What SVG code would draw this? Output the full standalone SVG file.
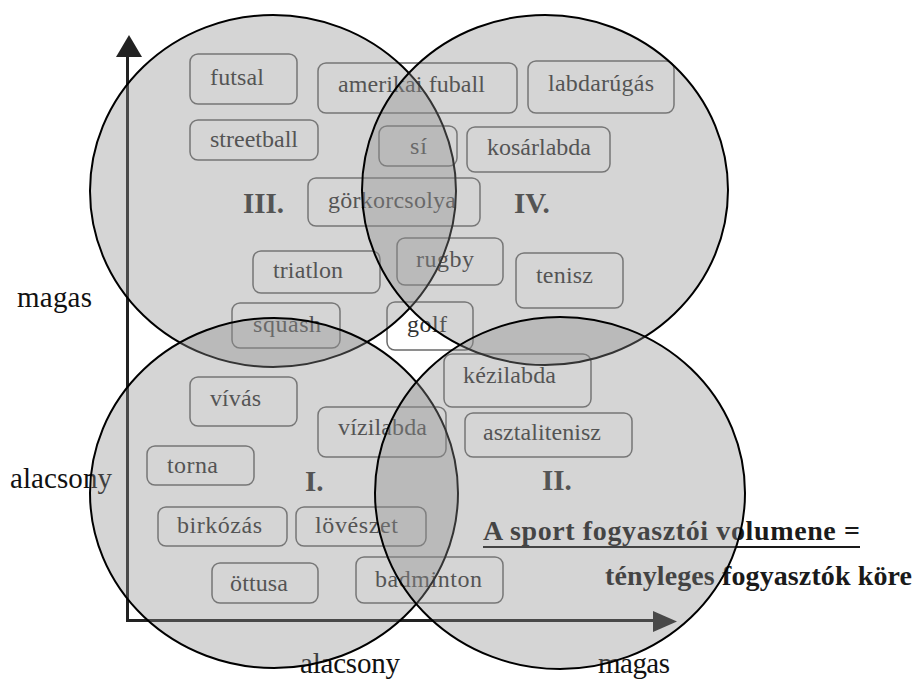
<svg xmlns="http://www.w3.org/2000/svg" width="917" height="679" viewBox="0 0 917 679">
  <defs>
    <style>
      .box { fill: #ffffff; stroke: #6a6a6a; stroke-width: 1.5; }
      .lbl { font-family: "Liberation Serif", "Times New Roman", serif; font-size: 24px; fill: #333333; }
      .num { font-family: "Liberation Serif", "Times New Roman", serif; font-size: 29px; font-weight: bold; fill: #333333; }
      .axis-lbl { font-family: "Liberation Serif", "Times New Roman", serif; font-size: 29px; fill: #111111; }
      .note { font-family: "Liberation Serif", "Times New Roman", serif; font-size: 28px; font-weight: bold; fill: #1a1a1a; }
      .axis { stroke: #222222; stroke-width: 3; fill: none; }
      .zone { fill: #8c8c8c; fill-opacity: 0.37; stroke: #000000; stroke-width: 2; }
    </style>
  </defs>

  <rect x="0" y="0" width="917" height="679" fill="#ffffff"/>

  <!-- axes -->
  <g id="connectors">
    <polyline class="axis" points="127.5,55 127.5,620.5 655,620.5"/>
    <polygon points="129,35 142,57 116,57" fill="#222222"/>
    <polygon points="677,621.5 653,611 653,632" fill="#222222"/>
  </g>

  <!-- axis labels -->
  <g id="axis-labels">
    <text class="axis-lbl" x="17" y="307" textLength="75">magas</text>
    <text class="axis-lbl" x="10" y="488" textLength="102">alacsony</text>
    <text class="axis-lbl" x="300" y="673" textLength="100">alacsony</text>
    <text class="axis-lbl" x="598" y="673" textLength="72">magas</text>
  </g>

  <!-- sports -->
  <g id="futsal"><rect class="box" x="190" y="54" width="107" height="50" rx="8"/><text class="lbl" x="210" y="85" textLength="54">futsal</text></g>
  <g id="amerikai-fuball"><rect class="box" x="318" y="63" width="199" height="50" rx="8"/><text class="lbl" x="338" y="92" textLength="147">amerikai fuball</text></g>
  <g id="labdarugas"><rect class="box" x="528" y="61" width="146" height="52" rx="8"/><text class="lbl" x="548" y="91" textLength="106">labdarúgás</text></g>
  <g id="streetball"><rect class="box" x="190" y="120" width="128" height="40" rx="8"/><text class="lbl" x="210" y="147" textLength="88">streetball</text></g>
  <g id="si"><rect class="box" x="379" y="126" width="78" height="40" rx="8"/><text class="lbl" x="410" y="154" textLength="17">sí</text></g>
  <g id="kosarlabda"><rect class="box" x="467" y="127" width="143" height="45" rx="8"/><text class="lbl" x="487" y="155" textLength="104">kosárlabda</text></g>
  <g id="gorkorcsolya"><rect class="box" x="308" y="178" width="172" height="48" rx="8"/><text class="lbl" x="328" y="208" textLength="128">görkorcsolya</text></g>
  <g id="triatlon"><rect class="box" x="253" y="251" width="127" height="42" rx="8"/><text class="lbl" x="273" y="278" textLength="70">triatlon</text></g>
  <g id="rugby"><rect class="box" x="397" y="238" width="106" height="47" rx="8"/><text class="lbl" x="416" y="267" textLength="58">rugby</text></g>
  <g id="tenisz"><rect class="box" x="516" y="253" width="107" height="55" rx="8"/><text class="lbl" x="536" y="283" textLength="57">tenisz</text></g>
  <g id="squash"><rect class="box" x="232" y="303" width="108" height="45" rx="8"/><text class="lbl" x="253" y="332" textLength="68">squash</text></g>
  <g id="golf"><rect class="box" x="387" y="302" width="86" height="48" rx="8"/><text class="lbl" x="407" y="332" textLength="40">golf</text></g>
  <g id="kezilabda"><rect class="box" x="444" y="354" width="147" height="53" rx="8"/><text class="lbl" x="463" y="383" textLength="93">kézilabda</text></g>
  <g id="asztalitenisz"><rect class="box" x="465" y="413" width="167" height="44" rx="8"/><text class="lbl" x="483" y="440" textLength="118">asztalitenisz</text></g>
  <g id="vivas"><rect class="box" x="190" y="377" width="107" height="49" rx="8"/><text class="lbl" x="210" y="406" textLength="51">vívás</text></g>
  <g id="vizilabda"><rect class="box" x="318" y="407" width="128" height="50" rx="8"/><text class="lbl" x="338" y="435" textLength="89">vízilabda</text></g>
  <g id="torna"><rect class="box" x="147" y="446" width="107" height="39" rx="8"/><text class="lbl" x="167" y="473" textLength="51">torna</text></g>
  <g id="birkozas"><rect class="box" x="158" y="507" width="129" height="39" rx="8"/><text class="lbl" x="177" y="533" textLength="85">birkózás</text></g>
  <g id="loveszet"><rect class="box" x="296" y="507" width="130" height="39" rx="8"/><text class="lbl" x="315" y="533" textLength="83">lövészet</text></g>
  <g id="ottusa"><rect class="box" x="212" y="563" width="106" height="40" rx="8"/><text class="lbl" x="230" y="591" textLength="58">öttusa</text></g>
  <g id="badminton"><rect class="box" x="356" y="557" width="147" height="46" rx="8"/><text class="lbl" x="375" y="587" textLength="107">badminton</text></g>

  <!-- quadrant numerals -->
  <g id="quadrant-labels">
    <text class="num" x="243" y="213">III.</text>
    <text class="num" x="514" y="213">IV.</text>
    <text class="num" x="305" y="491">I.</text>
    <text class="num" x="542" y="490">II.</text>
  </g>

  <!-- definition note -->
  <g id="note">
    <text class="note" x="483" y="540" textLength="377">A sport fogyasztói volumene =</text>
    <line x1="483" y1="547" x2="860" y2="547" stroke="#1a1a1a" stroke-width="2"/>
    <text class="note" x="605" y="585" textLength="307">tényleges fogyasztók köre</text>
  </g>

  <!-- consumer circles -->
  <g id="circles">
    <ellipse id="zone-III" class="zone" cx="273" cy="191" rx="183" ry="176"/>
    <ellipse id="zone-IV" class="zone" cx="545" cy="190" rx="183" ry="175"/>
    <ellipse id="zone-I" class="zone" cx="274" cy="493" rx="184" ry="175"/>
    <ellipse id="zone-II" class="zone" cx="560" cy="493" rx="185" ry="176"/>
  </g>
</svg>
